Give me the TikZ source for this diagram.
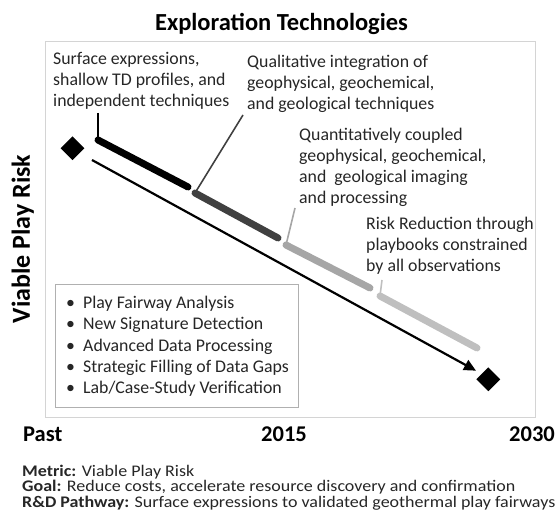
\documentclass[tikz,border=0pt]{standalone}
\usepackage{fontspec}
\setmainfont{Carlito}
\newfontfamily\footfont[FakeStretch=1.11]{Carlito}
\usetikzlibrary{arrows.meta,shapes.geometric}
\definecolor{txtgray}{HTML}{262626}
\definecolor{framegray}{HTML}{D4D4D4}
\definecolor{boxgray}{HTML}{B0B0B0}
\definecolor{bartwo}{HTML}{404040}
\definecolor{barthree}{HTML}{A6A6A6}
\definecolor{barfour}{HTML}{BFBFBF}
\begin{document}
\begin{tikzpicture}[x=1pt,y=-1pt,
  lbl/.style={anchor=north west,inner sep=0pt,align=left,font=\fontsize{17.8}{21}\selectfont,text=txtgray},
  foot/.style={anchor=base west,inner sep=0pt,font=\footfont\fontsize{16.2}{16}\selectfont,text=txtgray},
  axislbl/.style={inner sep=0pt,anchor=base,font=\fontsize{22.5}{26}\selectfont\bfseries,text=black},
  leader/.style={line width=1.6pt},
  bar/.style={line width=7pt,line cap=round},
  dia/.style={diamond,fill=black,inner sep=0pt,minimum width=24pt,minimum height=24pt}]
\useasboundingbox (0,0) rectangle (560,521);
% title and axis label
\node[font=\fontsize{24.5}{28}\selectfont\bfseries,inner sep=0pt,anchor=base] (title) at (281.5,30.7) {Exploration Technologies};
\node[font=\fontsize{26}{30}\selectfont\bfseries,inner sep=0pt,rotate=90,anchor=base] (ylab) at (30,239) {Viable Play Risk};
% frame
\draw[framegray,line width=1pt] (45,42) rectangle (535,418);
% diamonds
\node[dia] (start) at (72.5,148.3) {};
\node[dia] (goal) at (488.3,379.3) {};
% main arrow
\coordinate (arrS) at (92,160);
\coordinate (arrE) at (476,370.7);
\draw[line width=2.2pt,-{Triangle[length=12pt,width=11pt]}] (arrS) -- (arrE);
% texts
\node[lbl] (t1) at (53,52.5) {Surface expressions,\\shallow TD profiles, and\\independent techniques};
\node[lbl] (t2) at (247,54.5) {Qualitative integration of\\geophysical, geochemical,\\and geological techniques};
\node[lbl] (t3) at (299,127.5) {Quantitatively coupled\\geophysical, geochemical,\\and\ \ geological imaging\\and processing};
\node[lbl] (t4) at (366,217) {Risk Reduction through\\playbooks constrained\\by all observations};
% bars and leaders
\coordinate (l1a) at (98,113); \coordinate (b1a) at (98,140); \coordinate (b1b) at (188,187);
\coordinate (l2a) at (243,115); \coordinate (b2a) at (195,193); \coordinate (b2b) at (278,238);
\coordinate (l3a) at (295,208); \coordinate (b3a) at (286,245); \coordinate (b3b) at (370,288);
\coordinate (l4a) at (382,280); \coordinate (b4a) at (380,296); \coordinate (b4b) at (477,348);
\draw[leader,black] (l1a) -- (b1a);
\draw[bar,black] (b1a) -- (b1b);
\draw[leader,bartwo] (l2a) -- (b2a);
\draw[bar,bartwo] (b2a) -- (b2b);
\draw[leader,barthree] (l3a) -- (b3a);
\draw[bar,barthree] (b3a) -- (b3b);
\draw[leader,barfour] (l4a) -- (b4a);
\draw[bar,barfour] (b4a) -- (b4b);
% bullet box
\node[draw=boxgray,line width=1.2pt,fill=white,minimum width=243pt,minimum height=123pt,inner sep=0pt,anchor=north west] (bbox) at (55,284) {};
\node[lbl,font=\fontsize{17.8}{21.25}\selectfont] (blist) at (66,296) {\makebox[17pt][l]{•}Play Fairway Analysis\\
\makebox[17pt][l]{•}New Signature Detection\\
\makebox[17pt][l]{•}Advanced Data Processing\\
\makebox[17pt][l]{•}Strategic Filling of Data Gaps\\
\makebox[17pt][l]{•}Lab/Case-Study Verification};
% time axis labels
\node[axislbl,anchor=base west] (past) at (23,442) {Past};
\node[axislbl] (y2015) at (284,442) {2015};
\node[axislbl,anchor=base east] (y2030) at (555,442) {2030};
% bottom text
\node[foot] (metric) at (22,476) {\textbf{Metric:} Viable Play Risk};
\node[foot] (goaltxt) at (22,491.8) {\textbf{Goal:} Reduce costs, accelerate resource discovery and confirmation};
\node[foot] (pathway) at (22,507.5) {\textbf{R\&D Pathway:} Surface expressions to validated geothermal play fairways};
\end{tikzpicture}
\end{document}
